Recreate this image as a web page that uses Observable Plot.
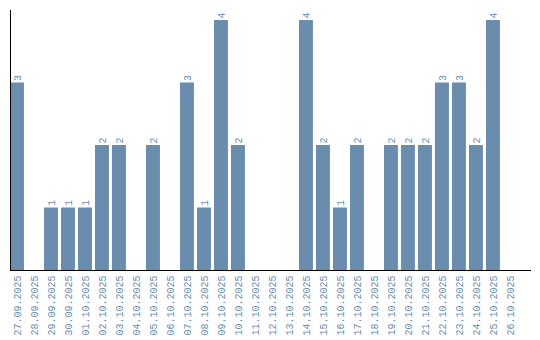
<!DOCTYPE html>
<html>
<head>
<meta charset="utf-8">
<script src="https://cdn.jsdelivr.net/npm/d3@7"></script>
<script src="https://cdn.jsdelivr.net/npm/@observablehq/plot@0.6"></script>
<style>
  html, body { margin: 0; padding: 0; background: #fff; }
</style>
</head>
<body>
<div id="chart"></div>
<script>
const dates = [
  "27.09.2025","28.09.2025","29.09.2025","30.09.2025","01.10.2025","02.10.2025",
  "03.10.2025","04.10.2025","05.10.2025","06.10.2025","07.10.2025","08.10.2025",
  "09.10.2025","10.10.2025","11.10.2025","12.10.2025","13.10.2025","14.10.2025",
  "15.10.2025","16.10.2025","17.10.2025","18.10.2025","19.10.2025","20.10.2025",
  "21.10.2025","22.10.2025","23.10.2025","24.10.2025","25.10.2025","26.10.2025"
];
const counts = [
  3,0,1,1,1,2,
  2,0,2,0,3,1,
  4,2,0,0,0,4,
  2,1,2,0,2,2,
  2,3,3,2,4,0
];

const data = dates.map((d, i) => ({date: d, count: counts[i]}));
const nonZero = data.filter(d => d.count > 0);

const blue = "#6a8cad";

const chart = Plot.plot({
  width: 540,
  height: 340,
  marginLeft: 10,
  marginRight: 10,
  marginTop: 10,
  marginBottom: 70,
  style: {fontFamily: "'Liberation Mono', 'DejaVu Sans Mono', monospace", fontSize: "10px", color: blue, background: "#fff"},
  x: {domain: dates, paddingInner: 0.18, paddingOuter: 0.385, align: 0, round: false, label: null},
  y: {domain: [0, 4.16], axis: null},
  marks: [
    Plot.barY(data, {x: "date", y: "count", fill: blue}),
    Plot.text(nonZero, {x: "date", y: "count", text: d => String(d.count), rotate: -90, textAnchor: "start", dy: -2, fill: blue, fontSize: 10}),
    Plot.axisX({tickSize: 0, tickPadding: 5, tickRotate: -90, label: null, fill: blue, fontSize: 10}),
    Plot.frame({anchor: "left", stroke: "black"}),
    Plot.frame({anchor: "bottom", stroke: "black"})
  ]
});

document.getElementById("chart").appendChild(chart);
</script>
</body>
</html>
